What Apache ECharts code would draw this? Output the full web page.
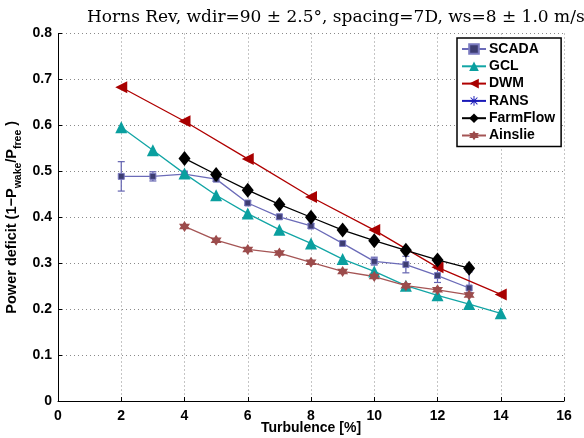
<!DOCTYPE html>
<html>
<head>
<meta charset="utf-8">
<script src="https://cdn.jsdelivr.net/npm/echarts@6/dist/echarts.min.js"></script>
<style>html,body{margin:0;padding:0;background:#fff;}#c{width:584px;height:438px;}</style>
</head>
<body>
<div id="c"></div>
<script>
const xTicks = [0, 2, 4, 6, 8, 10, 12, 14, 16];
const yTicks = [0, 0.1, 0.2, 0.3, 0.4, 0.5, 0.6, 0.7, 0.8];

const scadaX = [2, 3, 4, 5, 6, 7, 8, 9, 10, 11, 12, 13];
const scadaY = [0.489, 0.489, 0.494, 0.483, 0.431, 0.401, 0.381, 0.343, 0.304, 0.297, 0.273, 0.246];
const scadaErrLow = [0.457, 0.479, 0.488, 0.478, 0.426, 0.396, 0.376, 0.339, 0.296, 0.279, 0.258, 0.236];
const scadaErrHigh = [0.521, 0.499, 0.500, 0.488, 0.436, 0.406, 0.386, 0.347, 0.313, 0.315, 0.288, 0.281];

const gclX = [2, 3, 4, 5, 6, 7, 8, 9, 10, 11, 12, 13, 14];
const gclY = [0.596, 0.546, 0.495, 0.448, 0.408, 0.373, 0.343, 0.309, 0.282, 0.251, 0.230, 0.211, 0.191];

const dwmX = [2, 4, 6, 8, 10, 12, 14];
const dwmY = [0.683, 0.609, 0.527, 0.444, 0.372, 0.291, 0.232];

const ransX = [];
const ransY = [];

const farmX = [4, 5, 6, 7, 8, 9, 10, 11, 12, 13];
const farmY = [0.528, 0.493, 0.459, 0.428, 0.400, 0.372, 0.349, 0.328, 0.307, 0.289];

const ainslieX = [4, 5, 6, 7, 8, 9, 10, 11, 12, 13];
const ainslieY = [0.380, 0.350, 0.330, 0.322, 0.302, 0.282, 0.271, 0.251, 0.242, 0.231];

const seriesNames = ['SCADA', 'GCL', 'DWM', 'RANS', 'FarmFlow', 'Ainslie'];

const zip = (xs, ys) => xs.map((x, i) => [x, ys[i]]);

const hexagram = 'path://M0,-10L8.66,5L-8.66,5Z M0,10L-8.66,-5L8.66,-5Z';
const asterisk = 'path://M-10,-1L10,-1L10,1L-10,1Z M-1,-10L1,-10L1,10L-1,10Z M-6.36,-7.78L7.78,6.36L6.36,7.78L-7.78,-6.36Z M6.36,-7.78L7.78,-6.36L-6.36,7.78L-7.78,6.36Z';

const FONT = '"Liberation Sans", Arial, sans-serif';
const chart = echarts.init(document.getElementById('c'));

chart.setOption({
  animation: false,
  backgroundColor: '#fff',
  title: {
    text: 'Horns Rev, wdir=90 \u00b1 2.5\u00b0, spacing=7D, ws=8 \u00b1 1.0 m/s',
    left: 82, top: 4,
    textStyle: { fontFamily: '"DejaVu Serif", serif', fontWeight: 'normal', fontSize: 17, color: '#000' }
  },
  grid: { left: 58, right: 20, top: 33.5, bottom: 37, containLabel: false, outerBoundsMode: 'none' },
  legend: {
    data: seriesNames,
    orient: 'vertical',
    left: 457, top: 38,
    padding: [4, 6, 4, 4],
    itemGap: 3.3,
    itemWidth: 24, itemHeight: 12,
    backgroundColor: '#fff',
    borderColor: '#000', borderWidth: 1.5, borderRadius: 0,
    textStyle: { fontFamily: FONT, fontWeight: 'bold', fontSize: 14, color: '#000', lineHeight: 14, padding: [0, 0, 0, -2] }
  },
  xAxis: {
    type: 'value', min: 0, max: 16, interval: 2,
    name: 'Turbulence [%]', nameLocation: 'middle', nameGap: 20, nameMoveOverlap: false,
    nameTextStyle: { fontFamily: FONT, fontWeight: 'bold', fontSize: 14, color: '#000' },
    axisLine: { show: true, onZero: false, lineStyle: { color: '#000', width: 1 } },
    axisTick: { show: true, inside: true, length: 4, lineStyle: { color: '#000' } },
    axisLabel: { fontFamily: FONT, fontWeight: 'bold', fontSize: 14, color: '#000', margin: 8,
      formatter: v => xTicks.includes(v) ? String(v) : '' },
    splitLine: { show: true, lineStyle: { color: '#8a8a8a', type: [1, 3], width: 1 } }
  },
  yAxis: {
    type: 'value', min: 0, max: 0.8, interval: 0.1,
    name: '{a|Power deficit (1\u2212P}{s|wake}{a|/P}{s|free}{a| )}',
    nameLocation: 'middle', nameGap: 34, nameRotate: 90, nameMoveOverlap: false,
    nameTextStyle: {
      rich: {
        a: { fontFamily: FONT, fontWeight: 'bold', fontSize: 14.5, color: '#000', lineHeight: 24 },
        s: { fontFamily: FONT, fontWeight: 'bold', fontSize: 10.5, color: '#000', lineHeight: 10, verticalAlign: 'bottom' }
      }
    },
    axisLine: { show: true, onZero: false, lineStyle: { color: '#000', width: 1 } },
    axisTick: { show: true, inside: true, length: 4, lineStyle: { color: '#000' } },
    axisLabel: { fontFamily: FONT, fontWeight: 'bold', fontSize: 14, color: '#000', margin: 6,
      formatter: v => { const t = yTicks.find(k => Math.abs(k - v) < 1e-6); return t === undefined ? '' : (t === 0 ? '0' : t.toFixed(1)); } },
    splitLine: { show: true, lineStyle: { color: '#8a8a8a', type: [1, 3], width: 1 } }
  },
  series: [
    {
      name: 'SCADA-err', type: 'custom', z: 3,
      data: scadaX.map((x, i) => [x, scadaErrLow[i], scadaErrHigh[i]]),
      renderItem: (params, api) => {
        const lo = api.coord([api.value(0), api.value(1)]);
        const hi = api.coord([api.value(0), api.value(2)]);
        const w = 3.5;
        const st = { stroke: '#6262b0', lineWidth: 1.2 };
        return { type: 'group', children: [
          { type: 'line', shape: { x1: lo[0], y1: lo[1], x2: hi[0], y2: hi[1] }, style: st },
          { type: 'line', shape: { x1: lo[0] - w, y1: lo[1], x2: lo[0] + w, y2: lo[1] }, style: st },
          { type: 'line', shape: { x1: hi[0] - w, y1: hi[1], x2: hi[0] + w, y2: hi[1] }, style: st }
        ] };
      }
    },
    {
      name: 'SCADA', type: 'line', data: zip(scadaX, scadaY), z: 4,
      symbol: 'rect', symbolSize: 6,
      lineStyle: { color: '#6b6bb8', width: 1.3 },
      itemStyle: { color: '#3d3d72', borderColor: '#7a7ac0', borderWidth: 1 }
    },
    {
      name: 'GCL', type: 'line', data: zip(gclX, gclY), z: 5,
      symbol: 'triangle', symbolSize: 12,
      lineStyle: { color: '#12a5a5', width: 1.3 },
      itemStyle: { color: '#0a9f9f' }
    },
    {
      name: 'DWM', type: 'line', data: zip(dwmX, dwmY), z: 5,
      symbol: 'triangle', symbolSize: 12, symbolRotate: 90,
      lineStyle: { color: '#b00000', width: 1.3 },
      itemStyle: { color: '#a80000' }
    },
    {
      name: 'RANS', type: 'line', data: zip(ransX, ransY), z: 5,
      symbol: asterisk, symbolSize: 10,
      lineStyle: { color: '#1a1ab8', width: 1.3 },
      itemStyle: { color: '#1a1ab8' }
    },
    {
      name: 'FarmFlow', type: 'line', data: zip(farmX, farmY), z: 6,
      symbol: 'diamond', symbolSize: [12, 15],
      lineStyle: { color: '#000', width: 1.3 },
      itemStyle: { color: '#000' }
    },
    {
      name: 'Ainslie', type: 'line', data: zip(ainslieX, ainslieY), z: 5,
      symbol: hexagram, symbolSize: 11,
      lineStyle: { color: '#a55555', width: 1.3 },
      itemStyle: { color: '#9c4c4c' }
    }
  ]
});
</script>
</body>
</html>
